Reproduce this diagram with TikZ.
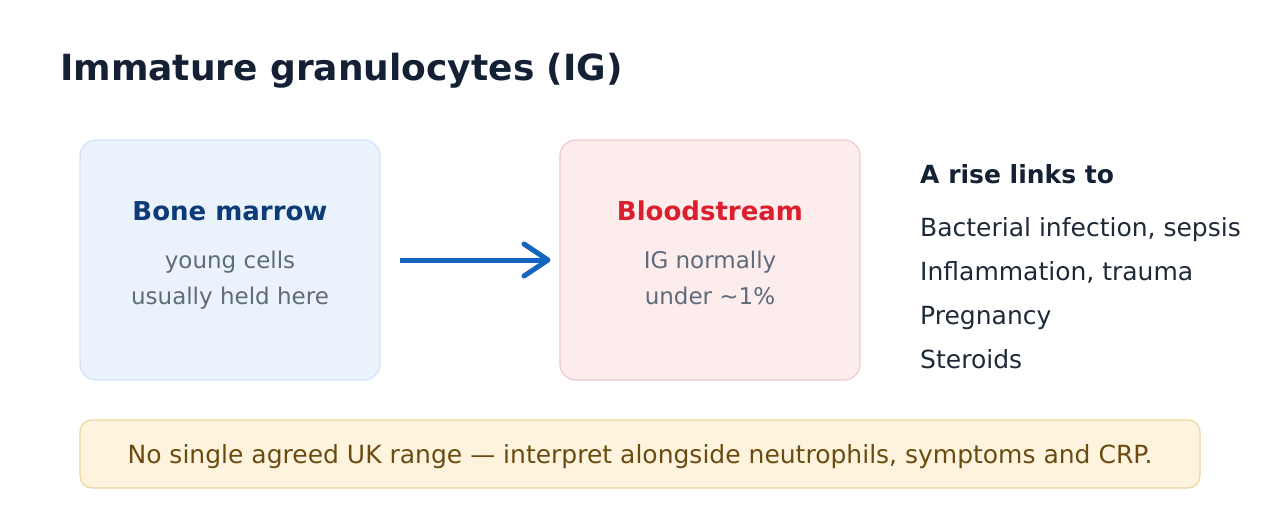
\documentclass[tikz,border=0pt]{standalone}
\usepackage{fontspec}
\setmainfont{DejaVu Sans}
\definecolor{titlec}{HTML}{142033}
\definecolor{bluefill}{HTML}{EAF2FC}
\definecolor{bluestroke}{HTML}{D3E3F5}
\definecolor{bluetext}{HTML}{0D3B78}
\definecolor{redfill}{HTML}{FDECEC}
\definecolor{redstroke}{HTML}{F0C8CB}
\definecolor{redtext}{HTML}{DC1F2E}
\definecolor{greytext}{HTML}{5F6B7A}
\definecolor{arrowc}{HTML}{1565C0}
\definecolor{listc}{HTML}{1F2937}
\definecolor{notefill}{HTML}{FEF3DC}
\definecolor{notestroke}{HTML}{EDD6A0}
\definecolor{notetext}{HTML}{6B4B12}
\tikzset{
  panel/.style={rounded corners=16pt, line width=1.2pt},
  headtxt/.style={font=\fontsize{26}{30}\selectfont\bfseries, anchor=base, inner sep=0},
  subtxt/.style={font=\fontsize{23}{27}\selectfont, text=greytext, anchor=base, inner sep=0},
  listtxt/.style={font=\fontsize{25}{29}\selectfont, text=listc, anchor=base west, inner sep=0},
}
\begin{document}
\begin{tikzpicture}[x=1pt,y=-1pt]
\useasboundingbox[fill=white] (0,0) rectangle (1280,520);
\node[anchor=base west, font=\fontsize{36}{40}\selectfont\bfseries, text=titlec, inner sep=0] (title) at (60,80) {Immature granulocytes (IG)};
% boxes
\draw[panel, fill=bluefill, draw=bluestroke] (80,140) rectangle (380,380);
\node[headtxt, text=bluetext] (bmh) at (230,220) {Bone marrow};
\node[subtxt] (bm1) at (230,268) {young cells};
\node[subtxt] (bm2) at (230,304) {usually held here};
\draw[panel, fill=redfill, draw=redstroke] (560,140) rectangle (860,380);
\node[headtxt, text=redtext] (bsh) at (710,220) {Bloodstream};
\node[subtxt] (bs1) at (710,268) {IG normally};
\node[subtxt] (bs2) at (710,304) {under \textasciitilde1\%};
% arrow
\coordinate (a0) at (400,260);
\coordinate (a1) at (548,260);
\draw[arrowc, line width=5pt] (a0) -- ([xshift=-3pt]a1);
\draw[arrowc, line width=5pt, line cap=round, line join=round] ([xshift=-24pt,yshift=-16pt]a1) -- (a1) -- ([xshift=-24pt,yshift=16pt]a1);
% list
\node[anchor=base west, font=\fontsize{25}{29}\selectfont\bfseries, text=titlec, inner sep=0] (lh) at (920,183) {A rise links to};
\node[listtxt] (l1) at (920,236) {Bacterial infection, sepsis};
\node[listtxt] (l2) at (920,280) {Inflammation, trauma};
\node[listtxt] (l3) at (920,324) {Pregnancy};
\node[listtxt] (l4) at (920,368) {Steroids};
% note
\draw[rounded corners=12pt, line width=1.2pt, fill=notefill, draw=notestroke] (80,420) rectangle (1200,488);
\node[anchor=base, font=\fontsize{25}{29}\selectfont, text=notetext, inner sep=0] (note) at (640,463) {No single agreed UK range — interpret alongside neutrophils, symptoms and CRP.};
\end{tikzpicture}
\end{document}
